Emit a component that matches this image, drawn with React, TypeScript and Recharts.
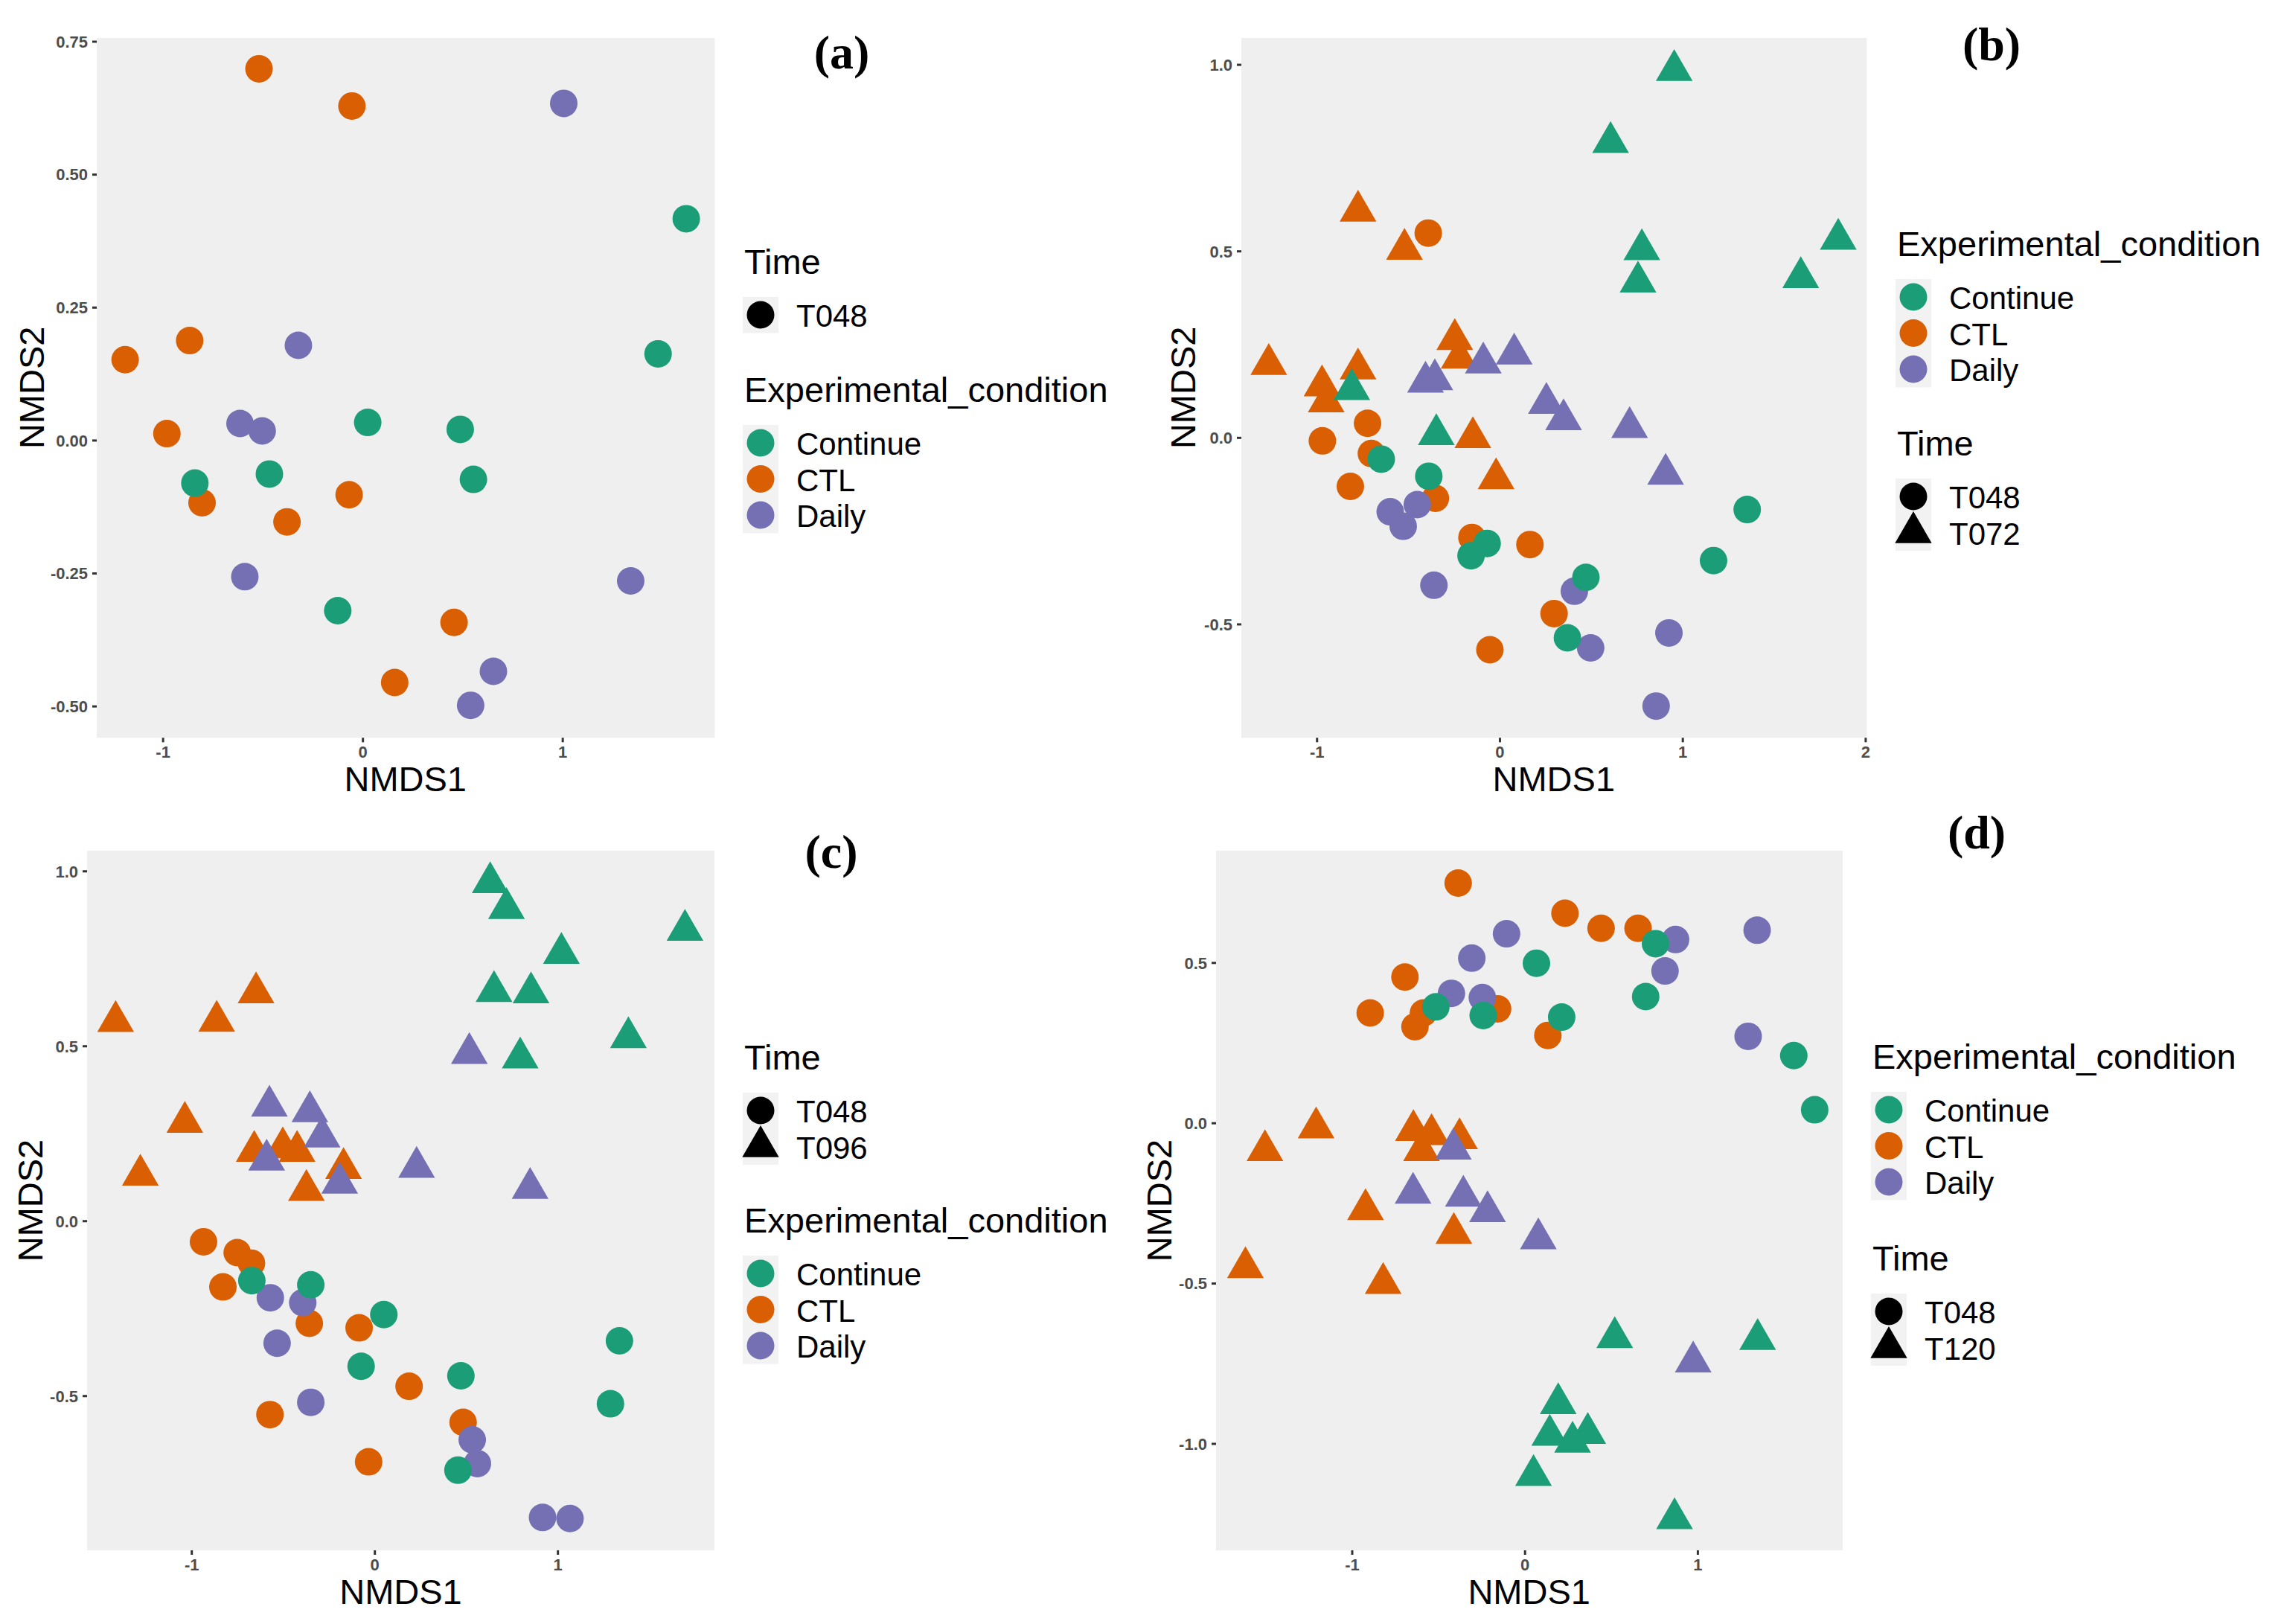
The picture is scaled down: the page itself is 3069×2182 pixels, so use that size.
import { CartesianGrid, Scatter, ScatterChart, XAxis, YAxis } from "recharts";

// colours (ggplot Dark2)
const conditions = ["Continue", "CTL", "Daily"];
const conditionColors = ["#1B9E77", "#D95F02", "#7570B3"];

// panel (a): T048 only
const aContinueT048 = [[1.618, 0.417], [1.477, 0.163], [0.024, 0.034], [0.487, 0.021], [0.553, -0.073], [-0.468, -0.063], [-0.841, -0.08], [-0.126, -0.32]];
const aCtlT048 = [[-0.52, 0.699], [-0.055, 0.629], [-0.867, 0.188], [-1.19, 0.152], [-0.981, 0.013], [-0.805, -0.117], [-0.38, -0.153], [-0.069, -0.102], [0.456, -0.342], [0.159, -0.455]];
const aDailyT048 = [[1.005, 0.634], [-0.323, 0.179], [-0.615, 0.032], [-0.504, 0.018], [-0.591, -0.256], [1.34, -0.264], [0.653, -0.434], [0.539, -0.498]];

// panel (b): T048 vs T072
const bContinueT048 = [[-0.649, -0.057], [-0.389, -0.103], [-0.07, -0.283], [-0.158, -0.316], [0.47, -0.374], [0.369, -0.536], [1.168, -0.329], [1.352, -0.192]];
const bCtlT048 = [[-0.392, 0.549], [-0.724, 0.039], [-0.971, -0.008], [-0.703, -0.042], [-0.818, -0.13], [-0.353, -0.162], [-0.153, -0.267], [0.164, -0.286], [0.296, -0.471], [-0.055, -0.568]];
const bDailyT048 = [[-0.6, -0.198], [-0.452, -0.179], [-0.529, -0.237], [-0.361, -0.395], [0.407, -0.411], [0.496, -0.563], [0.924, -0.523], [0.854, -0.719]];
const bContinueT072 = [[0.953, 0.985], [0.605, 0.792], [0.776, 0.505], [0.755, 0.418], [1.645, 0.43], [1.85, 0.533], [-0.81, 0.13], [-0.348, 0.009]];
const bCtlT072 = [[-0.776, 0.608], [-0.522, 0.506], [-0.247, 0.264], [-0.223, 0.214], [-1.264, 0.197], [-0.776, 0.185], [-0.973, 0.14], [-0.95, 0.097], [-0.148, 0.001], [-0.021, -0.109]];
const bDailyT072 = [[0.078, 0.225], [-0.091, 0.201], [-0.407, 0.15], [-0.356, 0.156], [0.254, 0.093], [0.348, 0.049], [0.709, 0.028], [0.906, -0.097]];

// panel (c): T048 vs T096
const cContinueT048 = [[-0.672, -0.17], [-0.35, -0.182], [0.049, -0.267], [-0.075, -0.415], [0.47, -0.442], [1.336, -0.342], [1.287, -0.522], [0.454, -0.712]];
const cCtlT048 = [[-0.936, -0.059], [-0.752, -0.09], [-0.674, -0.12], [-0.83, -0.188], [-0.358, -0.292], [-0.086, -0.305], [0.187, -0.472], [-0.573, -0.553], [0.482, -0.575], [-0.034, -0.688]];
const cDailyT048 = [[-0.571, -0.219], [-0.394, -0.233], [-0.534, -0.349], [-0.35, -0.518], [0.532, -0.625], [0.56, -0.693], [0.916, -0.847], [1.066, -0.85]];
const cContinueT096 = [[0.63, 0.968], [0.719, 0.894], [1.694, 0.832], [1.019, 0.766], [0.651, 0.657], [0.853, 0.653], [1.385, 0.525], [0.794, 0.467]];
const cCtlT096 = [[-1.416, 0.571], [-0.649, 0.653], [-0.864, 0.572], [-1.038, 0.283], [-1.281, 0.132], [-0.659, 0.2], [-0.503, 0.21], [-0.425, 0.2], [-0.171, 0.151], [-0.374, 0.088]];
const cDailyT096 = [[0.516, 0.48], [-0.576, 0.329], [-0.355, 0.313], [-0.288, 0.241], [0.228, 0.154], [-0.591, 0.175], [-0.192, 0.109], [0.848, 0.094]];

// panel (d): T048 vs T120
const dContinueT048 = [[0.066, 0.499], [0.755, 0.56], [0.698, 0.395], [-0.516, 0.363], [-0.242, 0.336], [0.212, 0.331], [1.555, 0.211], [1.676, 0.042]];
const dCtlT048 = [[-0.387, 0.749], [0.231, 0.655], [0.44, 0.608], [0.654, 0.608], [-0.695, 0.456], [-0.896, 0.344], [-0.588, 0.344], [-0.637, 0.301], [-0.159, 0.357], [0.132, 0.274]];
const dDailyT048 = [[-0.107, 0.591], [-0.308, 0.515], [0.871, 0.573], [1.343, 0.602], [0.81, 0.475], [-0.426, 0.405], [-0.247, 0.392], [1.291, 0.271]];
const dContinueT120 = [[0.519, -0.668], [1.346, -0.674], [0.192, -0.874], [0.143, -0.973], [0.275, -0.994], [0.363, -0.967], [0.049, -1.098], [0.865, -1.233]];
const dCtlT120 = [[-1.209, -0.014], [-1.505, -0.085], [-0.646, -0.022], [-0.541, -0.035], [-0.379, -0.048], [-0.599, -0.085], [-0.923, -0.269], [-0.412, -0.343], [-1.618, -0.45], [-0.821, -0.499]];
const dDailyT120 = [[-0.415, -0.08], [-0.648, -0.218], [-0.357, -0.227], [-0.217, -0.275], [0.077, -0.36], [0.973, -0.744]];

// axis ticks
const xTicksA = [-1, 0, 1];
const xTicksB = [-1, 0, 1, 2];
const yTicksA = [-0.5, -0.25, 0, 0.25, 0.5, 0.75];
const yTicksB = [-0.5, 0, 0.5, 1];
const yTicksC = [-0.5, 0, 0.5, 1];
const yTicksD = [-1, -0.5, 0, 0.5];

const CIRCLE_R = 18.5;
const TRI_R = 28.5;

const trianglePath = (cx: number, cy: number, r: number) =>
  `M${cx},${cy - r}L${cx + r * 0.866},${cy + r / 2}L${cx - r * 0.866},${cy + r / 2}Z`;

const makeShape = (kind: string, color: string) => (props: any) =>
  kind === "circle" ? (
    <circle cx={props.cx} cy={props.cy} r={CIRCLE_R} fill={color} />
  ) : (
    <path d={trianglePath(props.cx, props.cy, TRI_R)} fill={color} />
  );

const toPoints = (pts: number[][]) => pts.map(([x, y]) => ({ x, y }));

const tickStyle = {
  fill: "#4d4d4d",
  fontSize: 22,
  fontWeight: 700,
  fontFamily: "Liberation Sans, Arial, sans-serif",
};

type Series = { pts: number[][]; kind: string; color: string };

function Panel({ plot, xDomain, yDomain, xTicks, yTicks, yDigits, series }: any) {
  const padL = 100;
  const padT = 20;
  const padR = 20;
  const padB = 40;
  return (
    <div style={{ position: "absolute", left: plot.x - padL, top: plot.y - padT }}>
      <ScatterChart
        width={plot.w + padL + padR}
        height={plot.h + padT + padB}
        margin={{ top: padT, right: padR, bottom: 0, left: 0 }}
      >
        <CartesianGrid fill="#efefef" stroke="none" horizontal={false} vertical={false} />
        <XAxis
          type="number"
          dataKey="x"
          domain={xDomain}
          ticks={xTicks}
          interval={0}
          allowDataOverflow
          axisLine={false}
          tickLine={{ stroke: "#333333", strokeWidth: 3 }}
          tickSize={6}
          tickMargin={5}
          height={padB}
          tick={tickStyle}
          tickFormatter={(v: number) => String(v)}
        />
        <YAxis
          type="number"
          dataKey="y"
          domain={yDomain}
          ticks={yTicks}
          interval={0}
          allowDataOverflow
          axisLine={false}
          tickLine={{ stroke: "#333333", strokeWidth: 3 }}
          tickSize={6}
          tickMargin={6}
          width={padL}
          tick={tickStyle}
          tickFormatter={(v: number) => v.toFixed(yDigits)}
        />
        {series.map((s: Series, i: number) => (
          <Scatter
            key={i}
            data={toPoints(s.pts)}
            fill={s.color}
            shape={makeShape(s.kind, s.color)}
            isAnimationActive={false}
          />
        ))}
      </ScatterChart>
    </div>
  );
}

const [GREEN, ORANGE, PURPLE] = conditionColors;

const panels = [
  {
    plot: { x: 129.5, y: 50.7, w: 830.5, h: 940.3 },
    xDomain: [-1.332, 1.761],
    yDomain: [-0.559, 0.757],
    xTicks: xTicksA,
    yTicks: yTicksA,
    yDigits: 2,
    ylabOffset: 70,
    series: [
      { pts: aCtlT048, kind: "circle", color: ORANGE },
      { pts: aDailyT048, kind: "circle", color: PURPLE },
      { pts: aContinueT048, kind: "circle", color: GREEN },
    ],
  },
  {
    plot: { x: 1667.6, y: 50.7, w: 840.4, h: 940.3 },
    xDomain: [-1.414, 2.006],
    yDomain: [-0.804, 1.072],
    xTicks: xTicksB,
    yTicks: yTicksB,
    yDigits: 1,
    ylabOffset: 62,
    series: [
      { pts: bCtlT048, kind: "circle", color: ORANGE },
      { pts: bDailyT048, kind: "circle", color: PURPLE },
      { pts: bContinueT048, kind: "circle", color: GREEN },
      { pts: bCtlT072, kind: "triangle", color: ORANGE },
      { pts: bDailyT072, kind: "triangle", color: PURPLE },
      { pts: bContinueT072, kind: "triangle", color: GREEN },
    ],
  },
  {
    plot: { x: 117, y: 1143, w: 843, h: 940 },
    xDomain: [-1.572, 1.855],
    yDomain: [-0.941, 1.059],
    xTicks: xTicksA,
    yTicks: yTicksC,
    yDigits: 1,
    ylabOffset: 60,
    series: [
      { pts: cCtlT048, kind: "circle", color: ORANGE },
      { pts: cDailyT048, kind: "circle", color: PURPLE },
      { pts: cContinueT048, kind: "circle", color: GREEN },
      { pts: cCtlT096, kind: "triangle", color: ORANGE },
      { pts: cDailyT096, kind: "triangle", color: PURPLE },
      { pts: cContinueT096, kind: "triangle", color: GREEN },
    ],
  },
  {
    plot: { x: 1633.7, y: 1143, w: 842, h: 940 },
    xDomain: [-1.788, 1.838],
    yDomain: [-1.332, 0.85],
    xTicks: xTicksA,
    yTicks: yTicksD,
    yDigits: 1,
    ylabOffset: 60,
    series: [
      { pts: dCtlT048, kind: "circle", color: ORANGE },
      { pts: dDailyT048, kind: "circle", color: PURPLE },
      { pts: dContinueT048, kind: "circle", color: GREEN },
      { pts: dCtlT120, kind: "triangle", color: ORANGE },
      { pts: dDailyT120, kind: "triangle", color: PURPLE },
      { pts: dContinueT120, kind: "triangle", color: GREEN },
    ],
  },
];

const SANS = "Liberation Sans, Arial, sans-serif";
const SERIF = "Liberation Serif, Times New Roman, serif";

// legend block: title + grey key column + labels
function LegendBlock({ x, titleY, title, items }: any) {
  const boxTop = titleY + 31;
  const step = 48.5;
  return (
    <g>
      <text x={x + 2} y={titleY} fontSize={47} fontFamily={SANS} fill="#000">
        {title}
      </text>
      <rect x={x} y={boxTop} width={48} height={items.length * step} fill="#f2f2f2" />
      {items.map((it: any, i: number) => {
        const cy = boxTop + 24 + i * step;
        const cx = x + 24;
        return (
          <g key={i}>
            {it.kind === "circle" ? (
              <circle cx={cx} cy={cy} r={CIRCLE_R} fill={it.color} />
            ) : (
              <path d={trianglePath(cx, cy, TRI_R)} fill={it.color} />
            )}
            <text x={x + 72} y={cy + 16} fontSize={42} fontFamily={SANS} fill="#000">
              {it.label}
            </text>
          </g>
        );
      })}
    </g>
  );
}

const conditionItems = conditions.map((c, i) => ({ label: c, color: conditionColors[i], kind: "circle" }));
const timeItems = (later: string | null) => {
  const items = [{ label: "T048", color: "#000", kind: "circle" }];
  if (later) items.push({ label: later, color: "#000", kind: "triangle" });
  return items;
};

export default function App() {
  return (
    <div
      style={{
        position: "absolute",
        left: 0,
        top: 0,
        width: 3069,
        height: 2182,
        background: "#ffffff",
        overflow: "hidden",
      }}
    >
      {panels.map((p, i) => (
        <Panel key={i} {...p} />
      ))}
      <svg
        width={3069}
        height={2182}
        style={{ position: "absolute", left: 0, top: 0, pointerEvents: "none" }}
      >
        {panels.map((p, i) => {
          const cx = p.plot.x + p.plot.w / 2;
          const cy = p.plot.y + p.plot.h / 2;
          const lx = p.plot.x - p.ylabOffset;
          return (
            <g key={i}>
              <text
                x={cx}
                y={p.plot.y + p.plot.h + 72}
                textAnchor="middle"
                fontSize={47}
                fontFamily={SANS}
                fill="#000"
              >
                NMDS1
              </text>
              <text
                x={lx}
                y={cy}
                transform={`rotate(-90 ${lx} ${cy})`}
                textAnchor="middle"
                fontSize={47}
                fontFamily={SANS}
                fill="#000"
              >
                NMDS2
              </text>
            </g>
          );
        })}

        <text x={1131} y={92} textAnchor="middle" fontSize={64} fontWeight={700} fontFamily={SERIF}>(a)</text>
        <text x={2676} y={81} textAnchor="middle" fontSize={64} fontWeight={700} fontFamily={SERIF}>(b)</text>
        <text x={1117} y={1166} textAnchor="middle" fontSize={64} fontWeight={700} fontFamily={SERIF}>(c)</text>
        <text x={2656} y={1140} textAnchor="middle" fontSize={64} fontWeight={700} fontFamily={SERIF}>(d)</text>

        {/* (a) */}
        <LegendBlock x={998} titleY={368} title="Time" items={timeItems(null)} />
        <LegendBlock x={998} titleY={540} title="Experimental_condition" items={conditionItems} />
        {/* (b) */}
        <LegendBlock x={2547} titleY={344} title="Experimental_condition" items={conditionItems} />
        <LegendBlock x={2547} titleY={612} title="Time" items={timeItems("T072")} />
        {/* (c) */}
        <LegendBlock x={998} titleY={1437} title="Time" items={timeItems("T096")} />
        <LegendBlock x={998} titleY={1656} title="Experimental_condition" items={conditionItems} />
        {/* (d) */}
        <LegendBlock x={2514} titleY={1436} title="Experimental_condition" items={conditionItems} />
        <LegendBlock x={2514} titleY={1707} title="Time" items={timeItems("T120")} />
      </svg>
    </div>
  );
}
